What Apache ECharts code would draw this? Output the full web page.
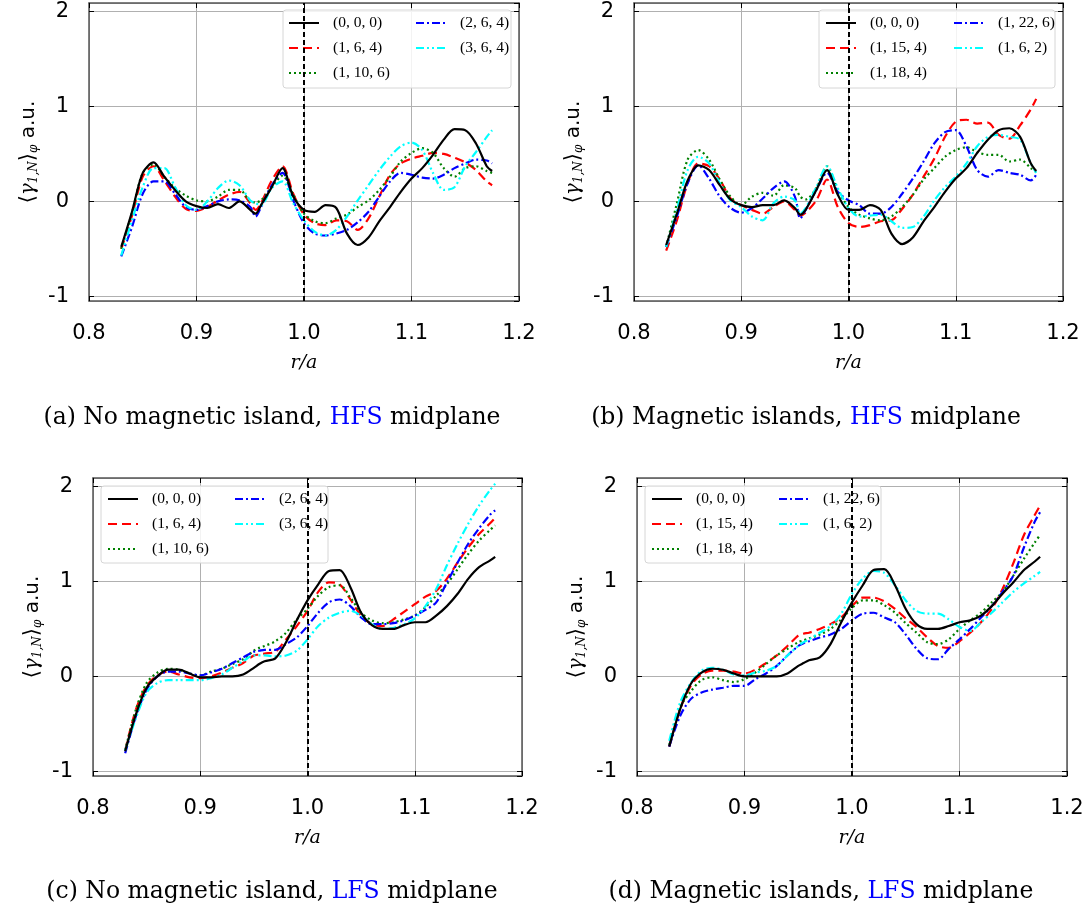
<!DOCTYPE html>
<html>
<head>
<meta charset="utf-8">
<script src="https://cdn.jsdelivr.net/npm/echarts@6/dist/echarts.min.js"></script>
<style>
html,body{margin:0;padding:0;background:#fff;}
#main{width:1088px;height:910px;}
</style>
</head>
<body>
<div id="main"></div>
<script>
// radial positions r/a
const r = [0.83,0.84,0.85,0.86,0.87,0.88,0.89,0.90,0.91,0.92,0.93,0.94,0.95,0.955,0.96,0.97,0.98,0.99,1.00,1.01,1.02,1.03,1.04,1.05,1.06,1.07,1.08,1.09,1.10,1.11,1.12,1.13,1.14,1.15,1.16,1.17,1.175];

// (a) No magnetic island, HFS midplane
const aBlack = [-0.48,-0.11,0.30,0.41,0.26,0.12,0.00,-0.05,-0.07,-0.03,-0.07,0.00,-0.09,-0.13,-0.04,0.15,0.35,0.05,-0.09,-0.11,-0.04,-0.07,-0.34,-0.46,-0.38,-0.21,-0.06,0.10,0.24,0.35,0.49,0.65,0.76,0.75,0.61,0.37,0.32];
const aRed   = [-0.50,-0.15,0.26,0.37,0.22,0.05,-0.08,-0.10,-0.06,0.01,0.07,0.10,-0.02,-0.09,-0.02,0.22,0.37,0.08,-0.14,-0.23,-0.25,-0.20,-0.21,-0.30,-0.18,0.05,0.28,0.40,0.45,0.48,0.51,0.50,0.46,0.41,0.33,0.21,0.17];
const aGreen = [-0.50,-0.12,0.30,0.39,0.26,0.14,0.06,0.01,0.00,0.05,0.12,0.12,0.00,-0.01,0.01,0.15,0.27,0.07,-0.13,-0.21,-0.23,-0.18,-0.14,-0.06,0.01,0.12,0.26,0.42,0.51,0.56,0.51,0.35,0.26,0.35,0.37,0.32,0.30];
const aBlue  = [-0.58,-0.27,0.08,0.21,0.21,0.08,-0.06,-0.09,-0.05,0.00,0.02,0.01,-0.06,-0.16,-0.06,0.17,0.30,0.01,-0.23,-0.34,-0.36,-0.34,-0.30,-0.22,-0.11,0.05,0.21,0.30,0.28,0.25,0.24,0.28,0.35,0.40,0.44,0.43,0.40];
const aCyan  = [-0.57,-0.20,0.15,0.35,0.35,0.15,-0.04,-0.09,0.00,0.14,0.22,0.17,0.01,-0.02,-0.04,0.14,0.21,-0.02,-0.20,-0.32,-0.36,-0.30,-0.16,0.01,0.17,0.33,0.47,0.58,0.62,0.54,0.30,0.12,0.15,0.37,0.52,0.68,0.75];

// (b) Magnetic islands, HFS midplane
const bBlack = [-0.46,-0.13,0.22,0.38,0.33,0.17,0.02,-0.04,-0.06,-0.04,-0.04,0.01,-0.07,-0.14,-0.09,0.12,0.33,0.07,-0.09,-0.09,-0.04,-0.09,-0.34,-0.45,-0.38,-0.21,-0.06,0.10,0.24,0.35,0.51,0.65,0.75,0.77,0.68,0.40,0.32];
const bRed   = [-0.52,-0.20,0.19,0.40,0.37,0.23,0.03,-0.04,-0.09,-0.13,-0.06,0.00,-0.09,-0.15,-0.12,0.01,0.23,-0.06,-0.23,-0.27,-0.25,-0.21,-0.20,-0.08,0.07,0.26,0.45,0.68,0.84,0.86,0.82,0.83,0.70,0.66,0.80,0.97,1.08];
const bGreen = [-0.48,-0.02,0.44,0.54,0.44,0.23,0.05,-0.04,0.05,0.09,0.06,0.17,0.14,0.05,0.02,0.14,0.37,0.12,-0.06,-0.14,-0.18,-0.20,-0.16,-0.06,0.07,0.23,0.35,0.47,0.54,0.57,0.52,0.49,0.49,0.42,0.44,0.35,0.31];
const bBlue  = [-0.48,-0.16,0.19,0.38,0.24,0.05,-0.07,-0.12,-0.07,0.03,0.14,0.21,0.05,-0.18,-0.09,0.12,0.30,0.10,0.01,-0.04,-0.13,-0.13,-0.06,0.08,0.24,0.42,0.61,0.73,0.75,0.58,0.33,0.26,0.33,0.30,0.28,0.22,0.28];
const bCyan  = [-0.48,-0.09,0.33,0.47,0.40,0.19,0.01,-0.06,-0.16,-0.20,-0.02,0.05,0.01,-0.13,-0.07,0.15,0.37,0.14,-0.07,-0.16,-0.15,-0.14,-0.21,-0.28,-0.27,-0.16,0.01,0.15,0.26,0.40,0.58,0.68,0.70,0.68,0.65,0.40,0.30];

// (c) No magnetic island, LFS midplane
const cBlack = [-0.79,-0.40,-0.12,0.00,0.07,0.07,0.03,-0.01,-0.01,0.00,0.00,0.02,0.09,0.13,0.16,0.19,0.36,0.59,0.80,0.97,1.11,1.12,0.94,0.67,0.54,0.50,0.50,0.54,0.57,0.57,0.64,0.74,0.87,1.03,1.15,1.22,1.26];
const cRed   = [-0.78,-0.35,-0.10,0.01,0.05,0.02,-0.01,-0.02,0.00,0.04,0.09,0.14,0.22,0.23,0.24,0.26,0.39,0.53,0.69,0.89,0.99,0.97,0.81,0.64,0.55,0.53,0.60,0.68,0.76,0.84,0.90,1.03,1.20,1.36,1.50,1.61,1.67];
const cGreen = [-0.78,-0.35,-0.07,0.04,0.08,0.07,0.03,0.01,0.05,0.08,0.13,0.18,0.27,0.30,0.32,0.37,0.46,0.60,0.71,0.85,0.94,0.96,0.83,0.67,0.59,0.56,0.57,0.60,0.64,0.73,0.85,0.97,1.13,1.29,1.43,1.54,1.59];
const cBlue  = [-0.81,-0.42,-0.14,0.00,0.05,0.05,0.03,0.01,0.04,0.08,0.14,0.20,0.26,0.27,0.28,0.28,0.34,0.41,0.53,0.67,0.78,0.81,0.74,0.62,0.55,0.55,0.56,0.59,0.64,0.70,0.78,0.99,1.20,1.40,1.56,1.70,1.75];
const cCyan  = [-0.78,-0.44,-0.17,-0.07,-0.04,-0.04,-0.04,-0.04,-0.02,0.02,0.09,0.16,0.22,0.22,0.22,0.21,0.22,0.27,0.39,0.53,0.62,0.67,0.69,0.64,0.55,0.50,0.51,0.55,0.61,0.74,0.92,1.17,1.40,1.61,1.80,1.96,2.03];

// (d) Magnetic islands, LFS midplane
const dBlack = [-0.74,-0.35,-0.08,0.04,0.08,0.07,0.03,0.00,0.00,0.00,0.00,0.03,0.11,0.14,0.17,0.20,0.34,0.57,0.78,0.96,1.12,1.13,0.96,0.71,0.55,0.50,0.50,0.53,0.57,0.59,0.64,0.74,0.87,0.99,1.12,1.21,1.26];
const dRed   = [-0.74,-0.35,-0.10,0.02,0.06,0.06,0.05,0.03,0.07,0.14,0.22,0.32,0.43,0.45,0.46,0.50,0.55,0.62,0.74,0.83,0.83,0.79,0.71,0.61,0.52,0.41,0.32,0.30,0.37,0.46,0.57,0.71,0.92,1.19,1.49,1.70,1.80];
const dGreen = [-0.72,-0.33,-0.16,-0.04,-0.01,-0.04,-0.06,-0.03,0.04,0.13,0.22,0.29,0.36,0.38,0.40,0.44,0.50,0.60,0.72,0.80,0.80,0.75,0.67,0.56,0.46,0.36,0.34,0.39,0.50,0.59,0.67,0.78,0.89,1.06,1.24,1.41,1.49];
const dBlue  = [-0.74,-0.42,-0.24,-0.17,-0.14,-0.12,-0.10,-0.10,-0.03,0.03,0.11,0.22,0.32,0.35,0.37,0.41,0.44,0.50,0.59,0.66,0.67,0.62,0.57,0.44,0.29,0.19,0.18,0.29,0.39,0.50,0.62,0.74,0.89,1.06,1.36,1.63,1.73];
const dCyan  = [-0.68,-0.28,-0.07,0.06,0.09,0.07,0.02,0.01,0.04,0.06,0.11,0.22,0.32,0.36,0.39,0.46,0.53,0.66,0.87,1.03,1.11,1.09,0.96,0.80,0.69,0.66,0.66,0.60,0.52,0.48,0.57,0.67,0.78,0.89,0.98,1.06,1.10];

// legend labels (mode numbers)
const labelsA = ['(0, 0, 0)','(1, 6, 4)','(1, 10, 6)','(2, 6, 4)','(3, 6, 4)'];
const labelsB = ['(0, 0, 0)','(1, 15, 4)','(1, 18, 4)','(1, 22, 6)','(1, 6, 2)'];
const captions = [
  ['(a) No magnetic island, ','HFS',' midplane'],
  ['(b) Magnetic islands, ','HFS',' midplane'],
  ['(c) No magnetic island, ','LFS',' midplane'],
  ['(d) Magnetic islands, ','LFS',' midplane']
];
const xTicks = [0.8,0.9,1.0,1.1,1.2];

const panels = [
  {vals:[aBlack,aRed,aGreen,aBlue,aCyan], names:labelsA, grid:{left:89,top:3,width:430,height:298},
   legend:{box:[283,10,228,78], c1:[288,15], c2:[415,15]}, cap:[272,418]},
  {vals:[bBlack,bRed,bGreen,bBlue,bCyan], names:labelsB, grid:{left:634,top:3,width:429,height:298},
   legend:{box:[819,10,236,78], c1:[825,15], c2:[953,15]}, cap:[806,418]},
  {vals:[cBlack,cRed,cGreen,cBlue,cCyan], names:labelsA, grid:{left:93,top:478,width:429,height:298},
   legend:{box:[101,486,227,77], c1:[107,491], c2:[234,491]}, cap:[272,892]},
  {vals:[dBlack,dRed,dGreen,dBlue,dCyan], names:labelsB, grid:{left:637,top:478,width:430,height:298},
   legend:{box:[645,486,236,77], c1:[651,491], c2:[778,491]}, cap:[821,892]}
];

const styles = [
  {color:'#000000', type:'solid'},
  {color:'#ff0000', type:[9,5]},
  {color:'#008000', type:[2,3]},
  {color:'#0000ff', type:[8,3,2,3]},
  {color:'#00ffff', type:[8,3,2,3,2,3]}
];

const frameColor = '#555555';
const grids = [], xAxes = [], yAxes = [], series = [], legends = [], graphics = [];

const yName = '{m|⟨}{g|γ}{s|1,N}{m|⟩}{s|φ}{t| a.u.}';

panels.forEach((p, i) => {
  grids.push(Object.assign({show:false}, p.grid));
  const tick = {show:true, inside:true, length:5, lineStyle:{color:'#000', width:1}};
  const line = {show:true, onZero:false, lineStyle:{color:frameColor, width:1.5}};
  xAxes.push({
    type:'value', gridIndex:i, min:0.8, max:1.2, interval:0.1, position:'bottom',
    axisLine:line, axisTick:tick,
    axisLabel:{margin:22, fontSize:21, fontFamily:'DejaVu Sans', color:'#000',
      formatter:v => xTicks.some(t => Math.abs(t - v) < 1e-6) ? v.toFixed(1) : ''},
    splitLine:{show:true, lineStyle:{color:'#b0b0b0', width:1}},
    name:'r/a', nameLocation:'middle', nameGap:53,
    nameTextStyle:{fontFamily:'DejaVu Serif', fontStyle:'italic', fontSize:19, color:'#000'}
  });
  xAxes.push({
    type:'value', gridIndex:i, min:0.8, max:1.2, interval:0.1, position:'top',
    axisLine:line, axisTick:tick, axisLabel:{show:false}, splitLine:{show:false}
  });
  yAxes.push({
    type:'value', gridIndex:i, min:-1.05, max:2.09, splitNumber:3, position:'left',
    axisLine:line, axisTick:tick,
    axisLabel:{margin:20, fontSize:21, fontFamily:'DejaVu Sans', color:'#000', showMinLabel:false, showMaxLabel:false,
      formatter:v => Math.abs(v - Math.round(v)) < 1e-6 ? String(Math.round(v)) : ''},
    splitLine:{show:true, lineStyle:{color:'#b0b0b0', width:1}},
    name:yName, nameLocation:'middle', nameRotate:90, nameGap:49,
    nameTextStyle:{color:'#000', rich:{
      m:{fontFamily:'DejaVu Serif', fontSize:21, color:'#000'},
      g:{fontFamily:'DejaVu Serif', fontStyle:'italic', fontSize:20, color:'#000'},
      s:{fontFamily:'DejaVu Serif', fontStyle:'italic', fontSize:12, color:'#000', verticalAlign:'bottom', padding:[10,0,0,0]},
      t:{fontFamily:'DejaVu Sans', fontSize:20, color:'#000'}
    }}
  });
  yAxes.push({
    type:'value', gridIndex:i, min:-1.05, max:2.09, splitNumber:3, position:'right',
    axisLine:line, axisTick:tick, axisLabel:{show:false}, splitLine:{show:false}
  });

  p.vals.forEach((vals, k) => {
    const s = {
      type:'line', name:p.names[k], xAxisIndex:2*i, yAxisIndex:2*i,
      data:r.map((x, j) => [x, vals[j]]),
      symbol:'none', showSymbol:false, smooth:0.3, z:3 + (k === 0 ? 1 : 0),
      lineStyle:{color:styles[k].color, type:styles[k].type, width:2.2},
      itemStyle:{color:styles[k].color}
    };
    if (k === 0) {
      s.markLine = {symbol:['none','none'], silent:true, label:{show:false},
        lineStyle:{color:'#000', type:[5,3], width:2}, data:[{xAxis:1.0}]};
    }
    series.push(s);
  });

  const lg = (pos, names) => ({
    orient:'vertical', left:pos[0], top:pos[1], padding:0,
    itemWidth:30, itemHeight:16, itemGap:9, data:names, selectedMode:false,
    itemStyle:{color:'rgba(0,0,0,0)', borderWidth:0, opacity:0},
    textStyle:{fontFamily:'Liberation Serif', fontSize:15.5, color:'#000', padding:[0,0,0,9]}
  });
  legends.push(lg(p.legend.c1, p.names.slice(0,3)));
  legends.push(lg(p.legend.c2, p.names.slice(3)));

  const b = p.legend.box;
  graphics.push({type:'rect', z:1, shape:{x:b[0], y:b[1], width:b[2], height:b[3], r:3},
    style:{fill:'rgba(255,255,255,0.85)', stroke:'#d6d6d6', lineWidth:1}});

  const c = captions[i];
  graphics.push({type:'text', x:p.cap[0], y:p.cap[1], style:{
    text:'{n|' + c[0] + '}{h|' + c[1] + '}{n|' + c[2] + '}',
    align:'center', verticalAlign:'middle',
    rich:{n:{fontFamily:'DejaVu Serif', fontSize:23.5, fill:'#000', color:'#000'},
          h:{fontFamily:'DejaVu Serif', fontSize:23.5, fill:'#0000ff', color:'#0000ff'}}
  }});
});

const chart = echarts.init(document.getElementById('main'), null, {renderer:'canvas'});
chart.setOption({
  animation:false,
  backgroundColor:'#ffffff',
  grid:grids, xAxis:xAxes, yAxis:yAxes, series:series, legend:legends, graphic:graphics
});
</script>
</body>
</html>
